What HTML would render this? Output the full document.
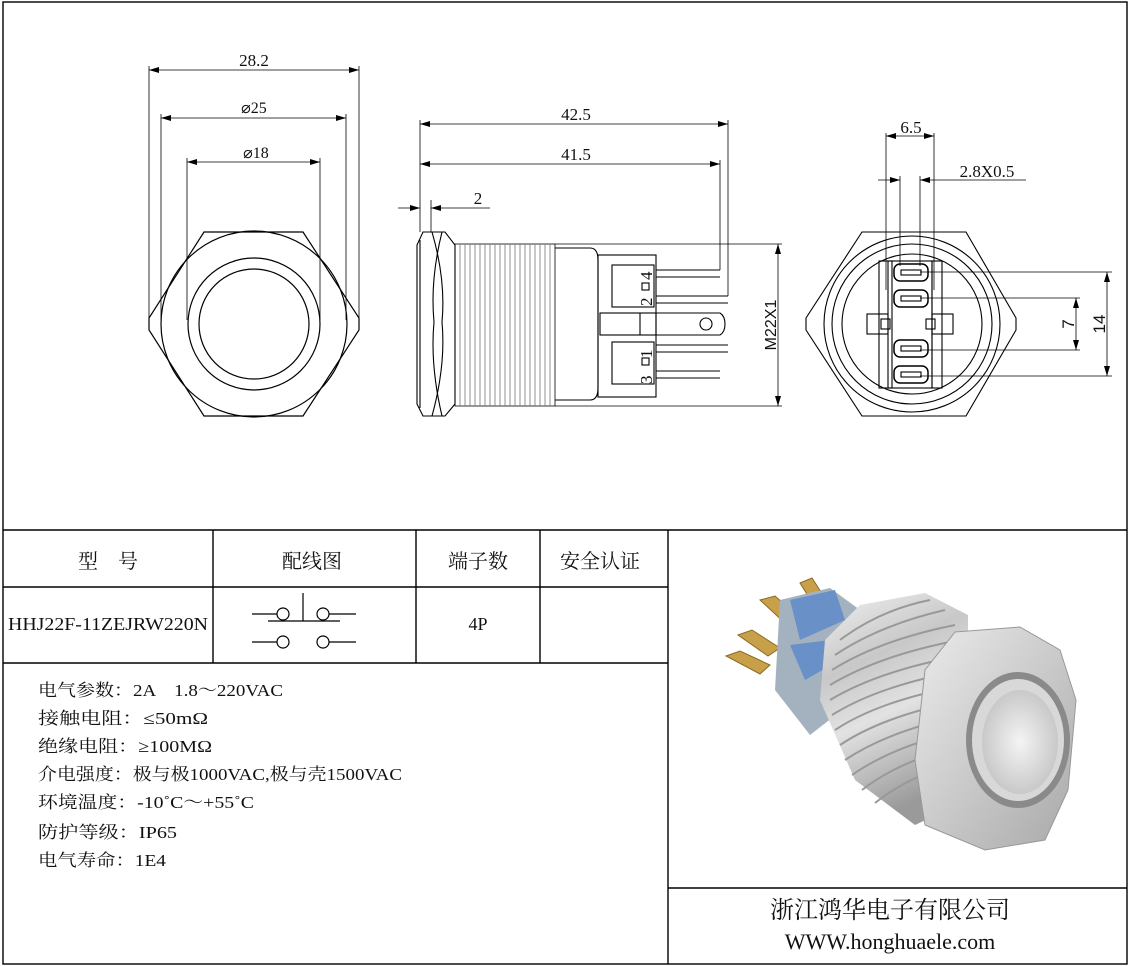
<!DOCTYPE html>
<html><head><meta charset="utf-8"><style>
html,body{margin:0;padding:0;background:#fff;}
svg{display:block;}
text{font-family:"Liberation Serif","Noto Serif CJK SC",serif;fill:#111;}
.cn{font-family:"Liberation Serif","Noto Serif CJK SC",serif;}
.ss{font-family:"Liberation Sans",sans-serif;}
</style></head><body>
<svg width="1129" height="966" viewBox="0 0 1129 966" xmlns="http://www.w3.org/2000/svg">
<defs>
<marker id="a" viewBox="0 0 10 6" refX="10" refY="3" markerWidth="10" markerHeight="6" orient="auto-start-reverse" markerUnits="userSpaceOnUse"><path d="M0,0 L10,3 L0,6 z" fill="#000"/></marker>
<linearGradient id="metal" x1="0" y1="0" x2="0.3" y2="1">
<stop offset="0" stop-color="#f0f0f0"/><stop offset="0.35" stop-color="#c8c8c8"/><stop offset="0.6" stop-color="#e2e2e2"/><stop offset="1" stop-color="#9a9a9a"/></linearGradient>
<radialGradient id="btn" cx="0.5" cy="0.5" r="0.6"><stop offset="0" stop-color="#f4f4f4"/><stop offset="1" stop-color="#c0c0c0"/></radialGradient>
<linearGradient id="hexg" x1="0" y1="0" x2="1" y2="1"><stop offset="0" stop-color="#ececec"/><stop offset="1" stop-color="#a8a8a8"/></linearGradient>
</defs>
<g fill="none" stroke="#000" stroke-width="1.4">
<rect x="3" y="2" width="1124" height="962"/>
<line x1="3" y1="530" x2="1127" y2="530"/>
<line x1="668" y1="530" x2="668" y2="964"/>
<line x1="668" y1="888" x2="1127" y2="888"/>
<line x1="3" y1="587" x2="668" y2="587"/>
<line x1="3" y1="663" x2="668" y2="663"/>
<line x1="213" y1="530" x2="213" y2="663"/>
<line x1="416" y1="530" x2="416" y2="663"/>
<line x1="540" y1="530" x2="540" y2="663"/>
</g>
<!-- FRONT VIEW -->
<g fill="none" stroke="#000" stroke-width="1.2">
<polygon points="204,232 303,232 359,318 359,330 303,416 204,416 149,330 149,318"/>
<circle cx="254" cy="324" r="93"/>
<circle cx="254" cy="324" r="66"/>
<circle cx="254" cy="324" r="55"/>
</g>
<g stroke="#000" stroke-width="0.8" fill="none">
<line x1="149" y1="66" x2="149" y2="318"/><line x1="359" y1="66" x2="359" y2="318"/>
<line x1="161" y1="114" x2="161" y2="320"/><line x1="346" y1="114" x2="346" y2="320"/>
<line x1="187" y1="158" x2="187" y2="320"/><line x1="320" y1="158" x2="320" y2="320"/>
<line x1="149" y1="70" x2="359" y2="70" marker-start="url(#a)" marker-end="url(#a)"/>
<line x1="161" y1="118" x2="346" y2="118" marker-start="url(#a)" marker-end="url(#a)"/>
<line x1="187" y1="162" x2="320" y2="162" marker-start="url(#a)" marker-end="url(#a)"/>
</g>
<text x="254" y="66" font-size="17" text-anchor="middle" font-family="Liberation Mono">28.2</text>
<text x="254" y="113" font-size="16" text-anchor="middle">⌀25</text>
<text x="256" y="158" font-size="16" text-anchor="middle">⌀18</text>

<!-- SIDE VIEW -->
<g fill="none" stroke="#000" stroke-width="1.1">
<polygon points="423,232 445,232 455,245 455,404 445,416 423,416 417,404 417,245"/>
<line x1="420" y1="240" x2="420" y2="408"/>
<path d="M432,232 Q446,280 442,322 Q446,365 432,416"/>
<path d="M442,232 Q430,280 434,322 Q430,365 442,416"/>
<rect x="455" y="244" width="100" height="162" stroke-width="0.8"/>
<path d="M555,248 L590,248 Q598,248 598,260 L598,388 Q598,400 590,400 L555,400"/>
<rect x="598" y="255" width="58" height="142"/>
<rect x="612" y="265" width="42" height="42"/>
<rect x="612" y="342" width="42" height="42"/>
<rect x="600" y="313" width="56" height="22"/>
<line x1="640" y1="313" x2="640" y2="335"/>
<path d="M656,313 L720,313 Q725,316 725,324 Q725,332 720,335 L656,335"/>
<rect x="700" y="318" width="12" height="12" rx="6"/>
<line x1="656" y1="270" x2="720" y2="270"/><line x1="656" y1="277" x2="720" y2="277"/>
<line x1="656" y1="296" x2="728" y2="296"/><line x1="656" y1="303" x2="728" y2="303"/>
<line x1="656" y1="345" x2="728" y2="345"/><line x1="656" y1="352" x2="728" y2="352"/>
<line x1="656" y1="371" x2="720" y2="371"/><line x1="656" y1="378" x2="720" y2="378"/>
<rect x="642" y="283" width="7" height="7"/><rect x="642" y="358" width="7" height="7"/>
</g>
<g stroke="#777" stroke-width="0.8">
<line x1="460" y1="244" x2="460" y2="406"/><line x1="465" y1="244" x2="465" y2="406"/><line x1="470" y1="244" x2="470" y2="406"/><line x1="475" y1="244" x2="475" y2="406"/><line x1="480" y1="244" x2="480" y2="406"/><line x1="485" y1="244" x2="485" y2="406"/><line x1="490" y1="244" x2="490" y2="406"/><line x1="495" y1="244" x2="495" y2="406"/><line x1="500" y1="244" x2="500" y2="406"/><line x1="505" y1="244" x2="505" y2="406"/><line x1="510" y1="244" x2="510" y2="406"/><line x1="515" y1="244" x2="515" y2="406"/><line x1="520" y1="244" x2="520" y2="406"/><line x1="525" y1="244" x2="525" y2="406"/><line x1="530" y1="244" x2="530" y2="406"/><line x1="535" y1="244" x2="535" y2="406"/><line x1="540" y1="244" x2="540" y2="406"/><line x1="545" y1="244" x2="545" y2="406"/><line x1="550" y1="244" x2="550" y2="406"/>
</g>
<g font-size="17">
<text transform="translate(652,306) rotate(-90)">2</text>
<text transform="translate(652,280) rotate(-90)">4</text>
<text transform="translate(652,384) rotate(-90)">3</text>
<text transform="translate(652,358) rotate(-90)">1</text>
</g>
<g stroke="#000" stroke-width="0.8" fill="none">
<line x1="420" y1="120" x2="420" y2="232"/>
<line x1="728" y1="120" x2="728" y2="296"/>
<line x1="720" y1="160" x2="720" y2="270"/>
<line x1="420" y1="124" x2="728" y2="124" marker-start="url(#a)" marker-end="url(#a)"/>
<line x1="420" y1="164" x2="720" y2="164" marker-start="url(#a)" marker-end="url(#a)"/>
<line x1="431" y1="200" x2="431" y2="232"/>
<line x1="398" y1="208" x2="420" y2="208" marker-end="url(#a)"/>
<line x1="490" y1="208" x2="431" y2="208" marker-end="url(#a)"/>
<line x1="555" y1="244" x2="782" y2="244"/>
<line x1="555" y1="406" x2="782" y2="406"/>
<line x1="778" y1="244" x2="778" y2="406" marker-start="url(#a)" marker-end="url(#a)"/>
</g>
<text x="576" y="120" font-size="17" text-anchor="middle" font-family="Liberation Mono">42.5</text>
<text x="576" y="160" font-size="17" text-anchor="middle" font-family="Liberation Mono">41.5</text>
<text x="478" y="204" font-size="17" text-anchor="middle" font-family="Liberation Mono">2</text>
<text transform="translate(776,325) rotate(-90)" font-size="16" text-anchor="middle" class="ss">M22X1</text>

<!-- RIGHT VIEW -->
<g fill="none" stroke="#000" stroke-width="1.1">
<polygon points="862,232 966,232 1016,318 1016,330 966,416 862,416 806,330 806,318"/>
<circle cx="912" cy="324" r="88"/>
<circle cx="912" cy="324" r="80"/>
<circle cx="912" cy="324" r="70"/>
<rect x="879" y="261" width="13" height="127"/>
<rect x="888" y="261" width="44" height="127"/>
<rect x="932" y="261" width="10" height="127"/>
<rect x="867" y="314" width="21" height="20"/><rect x="932" y="314" width="21" height="20"/>
<rect x="881" y="319" width="9" height="10"/><rect x="926" y="319" width="9" height="10"/>
<rect x="894" y="264" width="34" height="17" rx="6" stroke-width="1.5"/>
<rect x="894" y="290" width="34" height="17" rx="6" stroke-width="1.5"/>
<rect x="894" y="340" width="34" height="17" rx="6" stroke-width="1.5"/>
<rect x="894" y="366" width="34" height="17" rx="6" stroke-width="1.5"/>
<rect x="901" y="270" width="20" height="5"/><rect x="901" y="296" width="20" height="5"/>
<rect x="901" y="346" width="20" height="5"/><rect x="901" y="372" width="20" height="5"/>
</g>
<g stroke="#000" stroke-width="0.8" fill="none">
<line x1="886" y1="133" x2="886" y2="290"/><line x1="934" y1="133" x2="934" y2="290"/>
<line x1="900" y1="176" x2="900" y2="266"/><line x1="920" y1="176" x2="920" y2="266"/>
<line x1="886" y1="136" x2="934" y2="136" marker-start="url(#a)" marker-end="url(#a)"/>
<line x1="878" y1="180" x2="900" y2="180" marker-end="url(#a)"/>
<line x1="1026" y1="180" x2="920" y2="180" marker-end="url(#a)"/>
<line x1="920" y1="272" x2="1112" y2="272"/>
<line x1="920" y1="298" x2="1080" y2="298"/>
<line x1="920" y1="350" x2="1080" y2="350"/>
<line x1="920" y1="376" x2="1112" y2="376"/>
<line x1="1076" y1="298" x2="1076" y2="350" marker-start="url(#a)" marker-end="url(#a)"/>
<line x1="1107" y1="272" x2="1107" y2="376" marker-start="url(#a)" marker-end="url(#a)"/>
</g>
<text x="911" y="133" font-size="17" text-anchor="middle" font-family="Liberation Mono">6.5</text>
<text x="987" y="177" font-size="17" text-anchor="middle" font-family="Liberation Mono">2.8X0.5</text>
<text transform="translate(1074,324) rotate(-90)" font-size="17" text-anchor="middle" class="ss">7</text>
<text transform="translate(1105,324) rotate(-90)" font-size="17" text-anchor="middle" class="ss">14</text>

<!-- TABLE -->
<g font-size="20" class="cn" text-anchor="middle">
<text x="108" y="568">型　号</text>
<text x="312" y="568">配线图</text>
<text x="478" y="568">端子数</text>
<text x="600" y="568">安全认证</text>
</g>
<text x="8" y="630" font-size="18" textLength="200" lengthAdjust="spacingAndGlyphs">HHJ22F-11ZEJRW220N</text>
<text x="478" y="630" font-size="18" text-anchor="middle">4P</text>
<g stroke="#000" stroke-width="1.2" fill="none">
<line x1="252" y1="614" x2="277" y2="614"/><circle cx="283" cy="614" r="6"/>
<line x1="268" y1="621" x2="340" y2="621"/><line x1="303" y1="593" x2="303" y2="621"/>
<circle cx="323" cy="614" r="6"/><line x1="329" y1="614" x2="356" y2="614"/>
<line x1="252" y1="642" x2="277" y2="642"/><circle cx="283" cy="642" r="6"/>
<circle cx="323" cy="642" r="6"/><line x1="329" y1="642" x2="356" y2="642"/>
</g>
<g font-size="17" class="cn">
<text x="38" y="696" textLength="245" lengthAdjust="spacingAndGlyphs">电气参数：2A　1.8～220VAC</text>
<text x="38" y="724" textLength="170" lengthAdjust="spacingAndGlyphs">接触电阻：≤50mΩ</text>
<text x="38" y="752" textLength="174" lengthAdjust="spacingAndGlyphs">绝缘电阻：≥100MΩ</text>
<text x="38" y="780" textLength="364" lengthAdjust="spacingAndGlyphs">介电强度：极与极1000VAC,极与壳1500VAC</text>
<text x="38" y="808" textLength="216" lengthAdjust="spacingAndGlyphs">环境温度：-10˚C～+55˚C</text>
<text x="38" y="838" textLength="139" lengthAdjust="spacingAndGlyphs">防护等级：IP65</text>
<text x="38" y="866" textLength="128" lengthAdjust="spacingAndGlyphs">电气寿命：1E4</text>
</g>
<text x="890" y="918" font-size="24" text-anchor="middle" class="cn">浙江鸿华电子有限公司</text>
<text x="890" y="949" font-size="22" text-anchor="middle" font-family="Liberation Mono">WWW.honghuaele.com</text>

<!-- PHOTO -->
<g>
<g fill="#c9a04a" stroke="#8a6a20" stroke-width="1">
<polygon points="800,583 812,578 830,606 818,612"/>
<polygon points="760,600 775,596 800,618 788,626"/>
<polygon points="738,635 752,630 780,648 768,656"/>
<polygon points="726,656 740,651 770,665 760,674"/>
</g>
<polygon points="780,600 830,588 860,610 855,700 810,735 775,690" fill="#a4b2bf"/>
<polygon points="790,600 835,590 845,620 800,640" fill="#6a90c8"/>
<polygon points="790,645 830,640 840,660 805,680" fill="#6a90c8"/>
<polygon points="860,605 925,593 968,615 968,800 915,825 855,780 820,700 825,640" fill="url(#metal)"/>
<g stroke="#999" stroke-width="2" fill="none">
<path d="M840,640 Q880,610 930,600"/><path d="M835,655 Q880,625 945,610"/><path d="M832,670 Q880,640 955,625"/>
<path d="M830,685 Q880,655 960,640"/><path d="M830,700 Q880,670 965,655"/><path d="M832,715 Q880,685 965,670"/>
<path d="M835,730 Q880,700 965,685"/><path d="M840,745 Q885,715 965,700"/><path d="M845,760 Q890,730 965,715"/>
<path d="M852,775 Q895,745 965,730"/><path d="M862,790 Q900,760 965,745"/><path d="M875,803 Q910,775 965,760"/>
</g>
<polygon points="955,632 1020,627 1060,650 1076,700 1068,790 1045,840 985,850 925,825 915,760 925,670" fill="url(#hexg)" stroke="#999"/>
<ellipse cx="1018" cy="740" rx="52" ry="68" fill="#8a8a8a"/>
<ellipse cx="1018" cy="740" rx="46" ry="61" fill="#d8d8d8"/>
<ellipse cx="1020" cy="742" rx="38" ry="52" fill="url(#btn)"/>
</g>
</svg>
</body></html>
